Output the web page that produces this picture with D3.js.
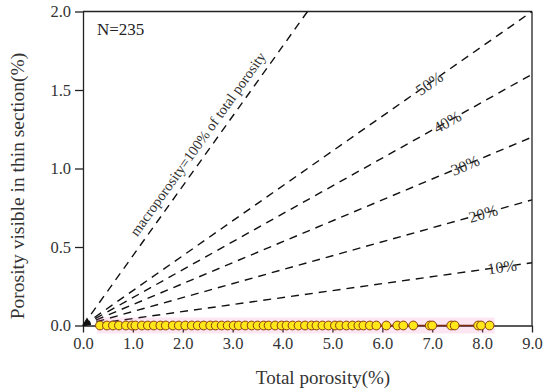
<!DOCTYPE html>
<html>
<head>
<meta charset="utf-8">
<script src="https://cdn.jsdelivr.net/npm/d3@7.9.0/dist/d3.min.js"></script>
<style>
  body { margin: 0; background: #fff; }
  svg { display: block; font-family: "Liberation Serif", "Times New Roman", serif; }
  .axis path, .axis line { stroke: #222; stroke-width: 1.3; }
  .axis text { font-size: 16.5px; fill: #333; font-family: "Liberation Serif", "Times New Roman", serif; }
</style>
</head>
<body>
<svg width="550" height="392"></svg>
<script>
// ticks
const xTicks = [0, 1, 2, 3, 4, 5, 6, 7, 8, 9];
const yTicks = [0, 0.5, 1.0, 1.5, 2.0];

// reference lines: fraction of the total porosity, macroporosity line slope
const lineRatios = [1, 0.5, 0.4, 0.3, 0.2, 0.1];
const lineLabels = ['macroporosity=100% of total porosity', '50%', '40%', '30%', '20%', '10%'];
const labelAtX = [2.5, 6.94, 7.3, 7.66, 8.02, 8.4];
const fullSlope = 4 / 9;

// samples (all at zero visible porosity)
const totalPorosity = [0.34, 0.48, 0.6, 0.72, 0.86, 0.98, 1.05, 1.18, 1.3, 1.42, 1.55, 1.66, 1.8, 1.92,
  2.05, 2.18, 2.3, 2.42, 2.55, 2.66, 2.78, 2.9, 3.02, 3.12, 3.25, 3.38, 3.5, 3.62, 3.72, 3.85, 3.98,
  4.08, 4.2, 4.32, 4.45, 4.58, 4.68, 4.8, 4.92, 5.05, 5.15, 5.28, 5.4, 5.52, 5.62, 5.75, 5.88,
  6.08, 6.3, 6.42, 6.62, 6.95, 7.0, 7.38, 7.45, 7.92, 7.98, 8.15];
const visiblePorosity = totalPorosity.map(() => 0);
const originSample = [0.08, 0.012];

const margin = { left: 83, right: 18, top: 11.5, bottom: 66.5 };
const width = 550, height = 392;
const svg = d3.select('svg');

const x = d3.scaleLinear().domain([0, 9]).range([margin.left, width - margin.right]);
const y = d3.scaleLinear().domain([0, 2]).range([height - margin.bottom, margin.top]);

// axes
let xAxis = svg.append('g')
  .attr('class', 'axis')
  .attr('transform', `translate(0,${y(0)})`)
  .call(d3.axisBottom(x).tickValues(xTicks).tickFormat(d3.format('.1f')).tickSize(7).tickSizeOuter(0).tickPadding(5));
xAxis.attr('font-family', null).attr('font-size', null);

let yAxis = svg.append('g')
  .attr('class', 'axis')
  .attr('transform', `translate(${x(0)},0)`)
  .call(d3.axisLeft(y).tickValues(yTicks).tickFormat(d3.format('.1f')).tickSize(8).tickSizeOuter(0).tickPadding(4));
yAxis.attr('font-family', null).attr('font-size', null);

// top and right frame
svg.append('line')
  .attr('x1', x(0)).attr('x2', x(9)).attr('y1', y(2)).attr('y2', y(2))
  .attr('stroke', '#222').attr('stroke-width', 1.3);
svg.append('line')
  .attr('x1', x(9)).attr('x2', x(9)).attr('y1', y(2)).attr('y2', y(0))
  .attr('stroke', '#222').attr('stroke-width', 1.3);

// dashed reference lines
lineRatios.forEach((r, i) => {
  let slope = fullSlope * r;
  let xEnd = Math.min(9, 2 / slope);
  svg.append('line')
    .attr('x1', x(0)).attr('y1', y(0))
    .attr('x2', x(xEnd)).attr('y2', y(xEnd * slope))
    .attr('stroke', '#111')
    .attr('stroke-width', 1.4)
    .attr('stroke-dasharray', '8,6');

  let angle = Math.atan2(y(0) - y(slope), x(1) - x(0)) * 180 / Math.PI;
  let lx = x(labelAtX[i]);
  let ly = y(labelAtX[i] * slope);
  svg.append('text')
    .attr('transform', `translate(${lx},${ly}) rotate(${-angle})`)
    .attr('text-anchor', 'middle')
    .attr('dy', i === 0 ? '-0.5em' : '0.35em')
    .attr('font-size', i === 0 ? 14.5 : 16)
    .attr('fill', '#333')
    .text(lineLabels[i]);
});

// highlight band behind the samples
svg.append('rect')
  .attr('x', x(0.28)).attr('width', x(8.25) - x(0.28))
  .attr('y', y(0) - 8).attr('height', 16)
  .attr('fill', '#f06bb0').attr('opacity', 0.17);

svg.append('line')
  .attr('x1', x(d3.min(totalPorosity))).attr('x2', x(d3.max(totalPorosity)))
  .attr('y1', y(0)).attr('y2', y(0))
  .attr('stroke', '#7a2a10').attr('stroke-width', 1.4);

svg.append('path')
  .attr('d', d3.symbol(d3.symbolTriangle, 22)())
  .attr('transform', `translate(${x(originSample[0])},${y(originSample[1]) - 2})`)
  .attr('fill', '#111');

svg.selectAll('circle.pt')
  .data(totalPorosity)
  .join('circle')
  .attr('class', 'pt')
  .attr('cx', d => x(d))
  .attr('cy', (d, i) => y(visiblePorosity[i]))
  .attr('r', 4.4)
  .attr('fill', '#ffe81a')
  .attr('stroke', '#8a3a12')
  .attr('stroke-width', 1);

// annotations and titles
svg.append('text')
  .attr('x', 97).attr('y', 35)
  .attr('font-size', 17).attr('fill', '#222')
  .text('N=235');

svg.append('text')
  .attr('x', 323).attr('y', 384)
  .attr('text-anchor', 'middle')
  .attr('font-size', 19).attr('fill', '#333')
  .text('Total porosity(%)');

svg.append('text')
  .attr('transform', `translate(24,186) rotate(-90)`)
  .attr('text-anchor', 'middle')
  .attr('font-size', 19.5).attr('fill', '#333')
  .text('Porosity visible in thin section(%)');
</script>
</body>
</html>
